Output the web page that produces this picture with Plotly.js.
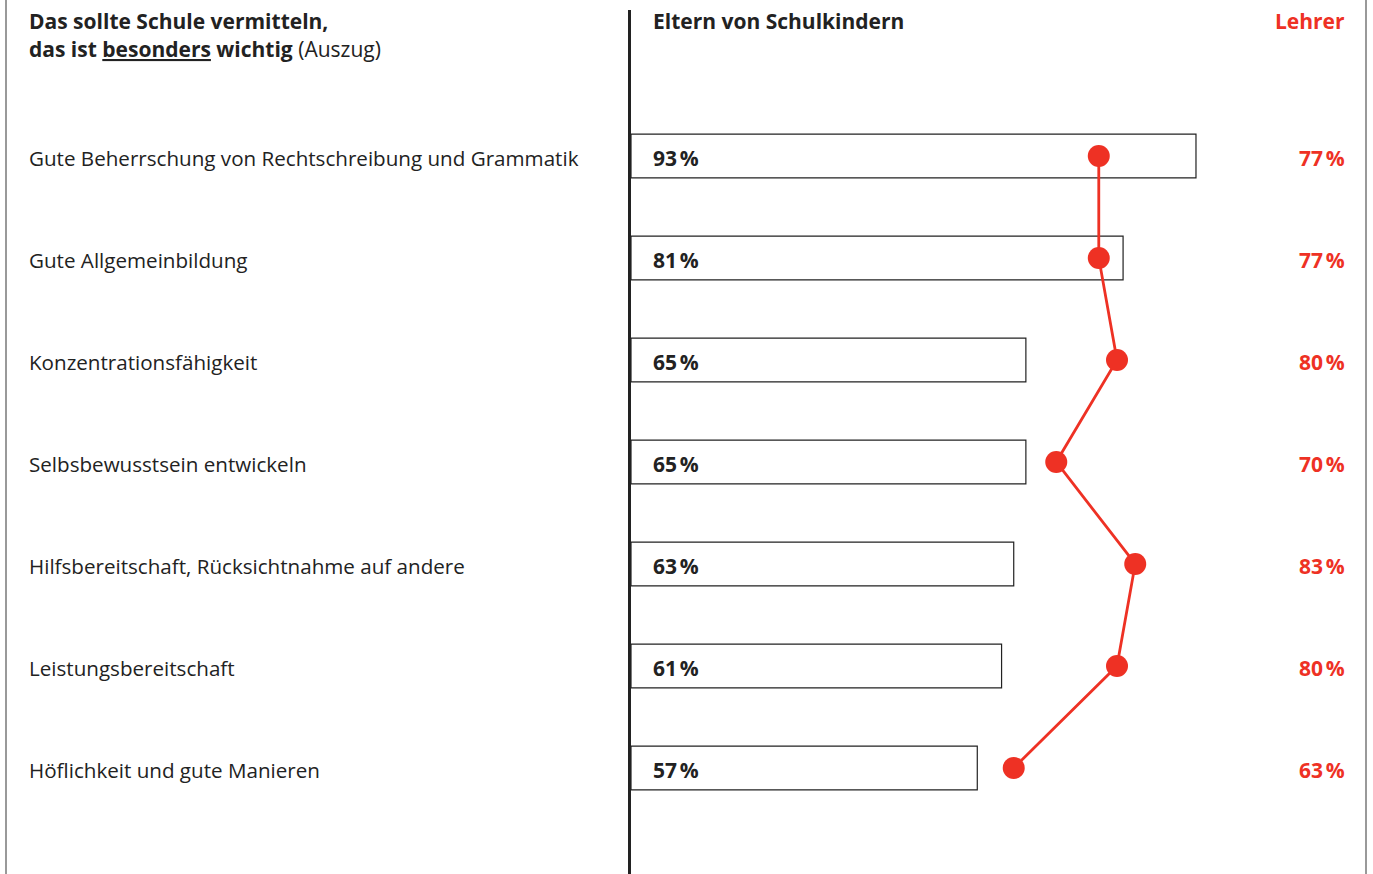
<!DOCTYPE html>
<html>
<head>
<meta charset="utf-8">
<script src="https://cdn.plot.ly/plotly-3.0.1.min.js"></script>
<style>
html,body{margin:0;padding:0;background:#fff;}
#chart{width:1373px;height:874px;}
</style>
</head>
<body>
<div id="chart"></div>
<script>
const categories = [
  "Gute Beherrschung von Rechtschreibung und Grammatik",
  "Gute Allgemeinbildung",
  "Konzentrationsfähigkeit",
  "Selbsbewusstsein entwickeln",
  "Hilfsbereitschaft, Rücksichtnahme auf andere",
  "Leistungsbereitschaft",
  "Höflichkeit und gute Manieren"
];
const eltern = [93, 81, 65, 65, 63, 61, 57];
const lehrer = [77, 77, 80, 70, 83, 80, 63];
const headerEltern = "Eltern von Schulkindern";
const headerLehrer = "Lehrer";
const titleLine1 = "<b>Das sollte Schule vermitteln,</b>";
const titleLine2 = "<b>das ist <u>besonders</u> wichtig</b> (Auszug)";

const FONT = "'Open Sans', sans-serif";
const RED = "#ee3124";
const DARK = "#222222";

const W = 1373, H = 874;
const mL = 631, mR = 28, mT = 10, mB = 0;
const plotW = W - mL - mR;
const xMax = plotW / 6.075;
const yIdx = categories.map((c, i) => i);

const toPaperX = px => (px - mL) / plotW;
const dy = 2 / 102;

const traces = [
  {
    type: 'bar', orientation: 'h',
    x: eltern, y: yIdx, width: 0.43,
    marker: {color: '#ffffff', line: {color: DARK, width: 1.2}},
    hoverinfo: 'skip'
  },
  {
    type: 'scatter', mode: 'lines+markers',
    x: lehrer, y: yIdx,
    line: {color: RED, width: 2.8},
    marker: {color: RED, size: 22},
    hoverinfo: 'skip'
  }
];

const base = {showarrow: false, borderpad: 0, borderwidth: 0, yanchor: 'middle'};
const annotations = [];
categories.forEach((c, i) => {
  annotations.push(Object.assign({}, base, {
    xref: 'paper', yref: 'y', x: toPaperX(29), y: i + dy, xanchor: 'left',
    text: c, font: {family: FONT, size: 20.6, color: DARK}
  }));
  annotations.push(Object.assign({}, base, {
    xref: 'x', yref: 'y', x: 22 / 6.075, y: i + dy, xanchor: 'left',
    text: '<b>' + eltern[i] + '\u202f%</b>', font: {family: FONT, size: 21, color: DARK}
  }));
  annotations.push(Object.assign({}, base, {
    xref: 'paper', yref: 'y', x: 1, y: i + dy, xanchor: 'right',
    text: '<b>' + lehrer[i] + '\u202f%</b>', font: {family: FONT, size: 21, color: RED}
  }));
});
const yTop = -1.431;
const pyToY = py => yTop + (py - mT) / 102;
annotations.push(Object.assign({}, base, {
  xref: 'paper', yref: 'y', x: toPaperX(29), y: pyToY(21), xanchor: 'left',
  text: titleLine1, font: {family: FONT, size: 21, color: DARK}
}));
annotations.push(Object.assign({}, base, {
  xref: 'paper', yref: 'y', x: toPaperX(29), y: pyToY(49), xanchor: 'left',
  text: titleLine2, font: {family: FONT, size: 21, color: DARK}
}));
annotations.push(Object.assign({}, base, {
  xref: 'x', yref: 'y', x: 22 / 6.075, y: pyToY(21), xanchor: 'left',
  text: '<b>' + headerEltern + '</b>', font: {family: FONT, size: 21, color: DARK}
}));
annotations.push(Object.assign({}, base, {
  xref: 'paper', yref: 'y', x: 1, y: pyToY(21), xanchor: 'right',
  text: '<b>' + headerLehrer + '</b>', font: {family: FONT, size: 21, color: RED}
}));

const layout = {
  width: W, height: H,
  margin: {l: mL, r: mR, t: mT, b: mB, pad: 0},
  paper_bgcolor: '#fff', plot_bgcolor: '#fff',
  showlegend: false,
  xaxis: {range: [0, xMax], visible: false, fixedrange: true},
  yaxis: {
    range: [yTop + (H - mT - mB) / 102, yTop],
    showline: true, linecolor: DARK, linewidth: 3,
    showgrid: false, zeroline: false, showticklabels: false, ticks: '', fixedrange: true
  },
  annotations: annotations,
  shapes: [
    {type: 'line', xref: 'paper', yref: 'paper', x0: toPaperX(6), x1: toPaperX(6), y0: -0.01, y1: 1.02,
     line: {color: '#777', width: 1.5}},
    {type: 'line', xref: 'paper', yref: 'paper', x0: toPaperX(1366), x1: toPaperX(1366), y0: -0.01, y1: 1.02,
     line: {color: '#777', width: 1.5}}
  ]
};

Plotly.newPlot('chart', traces, layout, {displayModeBar: false, staticPlot: true});
</script>
</body>
</html>
